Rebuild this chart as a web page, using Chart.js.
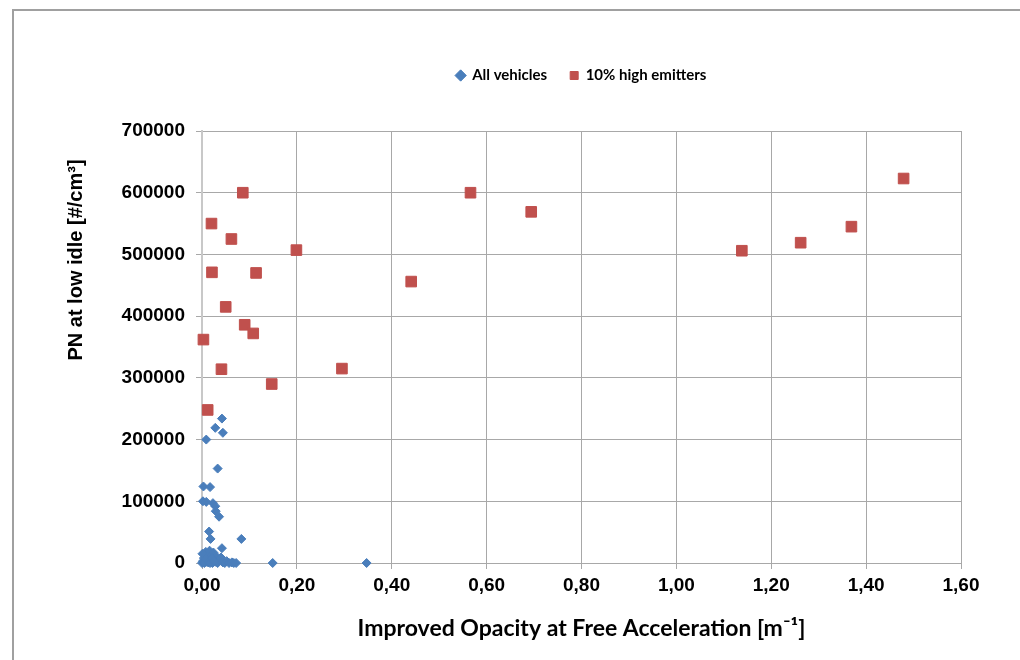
<!DOCTYPE html>
<html>
<head>
<meta charset="utf-8">
<script src="https://cdn.jsdelivr.net/npm/chart.js@4.4.0/dist/chart.umd.min.js"></script>
<style>
  html, body { margin: 0; padding: 0; background: #fff; }
  #wrap { position: relative; width: 1020px; height: 660px; overflow: hidden; }
  #frame { position: absolute; left: 12px; top: 9px; width: 1040px; height: 680px;
           border: 2px solid #a0a0a0; box-sizing: border-box; pointer-events: none; }
</style>
</head>
<body>
<div id="wrap">
  <canvas id="scatterCanvas" width="1020" height="660"></canvas>
  <div id="frame"></div>
</div>
<script>
// series: All vehicles
const allOpacity = [
  0.042, 0.028, 0.044, 0.009, 0.033, 0.003, 0.017, 0.002, 0.009, 0.023, 0.028, 0.029, 0.036,
  0.015, 0.018, 0.083, 0.042,
  0.000, 0.002, 0.004, 0.006, 0.008, 0.010, 0.012, 0.014, 0.016, 0.018, 0.020, 0.022, 0.024,
  0.026, 0.028, 0.030, 0.033, 0.036, 0.040, 0.044, 0.048, 0.052, 0.057, 0.001, 0.005, 0.009,
  0.013, 0.017, 0.021, 0.025,
  0.063, 0.067, 0.072, 0.149, 0.347
];
const allPN = [
  234000, 219000, 211000, 200000, 153000, 124000, 123000, 100000, 99000, 97000, 92000, 84000, 75000,
  51000, 39000, 39000, 24000,
  0, 3000, 8000, 14000, 18000, 2000, 10000, 15000, 20000, 5000, 12000, 0, 17000,
  7000, 2000, 11000, 0, 5000, 9000, 1000, 0, 3000, 0, 15000, 0, 6000,
  1000, 0, 8000, 3000,
  1000, 0, 0, 0, 0
];

// series: 10% high emitters
const highOpacity = [
  0.003, 0.012, 0.020, 0.021, 0.041, 0.050, 0.062, 0.086, 0.090, 0.108, 0.114, 0.147,
  0.199, 0.295, 0.441, 0.566, 0.694, 1.138, 1.262, 1.369, 1.479
];
const highPN = [
  362000, 248000, 550000, 471000, 314000, 415000, 525000, 600000, 386000, 372000, 470000, 290000,
  507000, 315000, 456000, 600000, 569000, 506000, 519000, 545000, 623000
];

const xTicks = [0, 0.2, 0.4, 0.6, 0.8, 1.0, 1.2, 1.4, 1.6];
const yTicks = [0, 100000, 200000, 300000, 400000, 500000, 600000, 700000];

const toPoints = (xs, ys) => xs.map((x, i) => ({ x: x, y: ys[i] }));

const tickFont = { family: "'Liberation Sans', Arial, sans-serif", weight: "bold", size: 19 };
const gridColor = "#a8a8a8";

// y axis title is drawn off-centre in the original, so it is placed by hand
const yTitlePlugin = {
  id: "yTitle",
  afterDraw(chart) {
    const ctx = chart.ctx;
    ctx.save();
    ctx.translate(82, 260);
    ctx.rotate(-Math.PI / 2);
    ctx.font = "bold 20px 'Liberation Sans', Arial, sans-serif";
    ctx.fillStyle = "#000";
    ctx.textAlign = "center";
    ctx.textBaseline = "alphabetic";
    ctx.fillText("PN at low idle [#/cm³]", 0, 0);
    ctx.restore();
  }
};

new Chart(document.getElementById("scatterCanvas"), {
  type: "scatter",
  data: {
    datasets: [
      {
        label: "All vehicles",
        data: toPoints(allOpacity, allPN),
        clip: false,
        pointStyle: "rectRot",
        pointRadius: 4.5,
        pointHoverRadius: 4.5,
        borderWidth: 1,
        backgroundColor: "#4a7ebb",
        borderColor: "#4a7ebb"
      },
      {
        label: "10% high emitters",
        data: toPoints(highOpacity, highPN),
        clip: false,
        pointStyle: "rect",
        pointRadius: 7.5,
        pointHoverRadius: 7.5,
        borderWidth: 1,
        backgroundColor: "#c0504d",
        borderColor: "#c0504d"
      }
    ]
  },
  options: {
    responsive: false,
    animation: false,
    layout: { padding: { top: 45, right: 59, left: 0, bottom: 0 } },
    plugins: {
      legend: {
        position: "top",
        fullSize: false,
        labels: {
          usePointStyle: true,
          boxWidth: 8,
          boxHeight: 8,
          padding: 23,
          color: "#000",
          font: { family: "Lato, sans-serif", weight: "bold", size: 15 }
        }
      },
      // empty title used as a spacer between legend and plot
      title: {
        display: true,
        text: "",
        weight: 500,
        font: { size: 10, lineHeight: 1 },
        padding: { top: 0, bottom: 28 }
      },
      tooltip: { enabled: false }
    },
    scales: {
      x: {
        type: "linear",
        min: 0,
        max: 1.6,
        afterBuildTicks: (s) => { s.ticks = xTicks.map((v) => ({ value: v })); },
        afterFit: (s) => { s.height = 97; },
        ticks: {
          color: "#000",
          font: tickFont,
          padding: 5,
          callback: (v) => v.toFixed(2).replace(".", ",")
        },
        grid: { color: gridColor, tickLength: 6 },
        border: { color: gridColor, width: 1 },
        title: {
          display: true,
          text: "Improved Opacity at Free Acceleration [m⁻¹]",
          color: "#000",
          font: { family: "Lato, sans-serif", weight: "bold", size: 23 },
          padding: { top: 0, bottom: 18 }
        }
      },
      y: {
        type: "linear",
        min: 0,
        max: 700000,
        afterBuildTicks: (s) => { s.ticks = yTicks.map((v) => ({ value: v })); },
        afterFit: (s) => { s.width = 202; },
        ticks: {
          color: "#000",
          font: tickFont,
          padding: 11,
          callback: (v) => String(v)
        },
        grid: { color: gridColor, tickLength: 6 },
        border: { color: "#c8c8c8", width: 2 }
      }
    }
  },
  plugins: [yTitlePlugin]
});
</script>
</body>
</html>
